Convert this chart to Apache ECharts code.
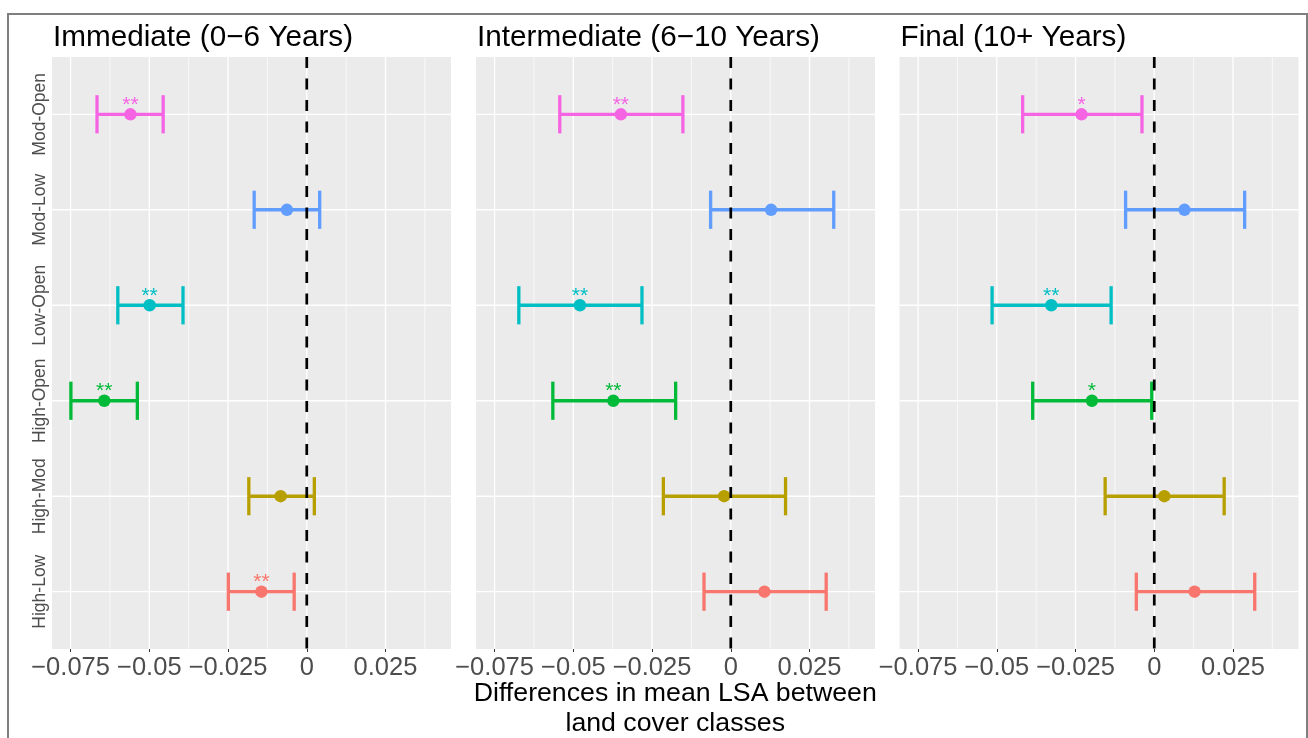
<!DOCTYPE html>
<html><head><meta charset="utf-8">
<script src="https://cdn.jsdelivr.net/npm/echarts@6/dist/echarts.min.js"></script>
<style>html,body{margin:0;padding:0;background:#fff}#c{width:1308px;height:738px}</style>
</head><body><div id="c"></div>
<script>
// ---------- data ----------
const categories = ['High-Low', 'High-Mod', 'High-Open', 'Low-Open', 'Mod-Low', 'Mod-Open'];
const colors = ['#F8766D', '#B79F00', '#00BA38', '#00BFC4', '#619CFF', '#F564E3'];
const panelTitles = ['Immediate (0\u22126 Years)', 'Intermediate (6\u221210 Years)', 'Final (10+ Years)'];

const immediateMean  = [-0.0144, -0.0083, -0.0643, -0.0499, -0.0063, -0.0560];
const immediateLower = [-0.0249, -0.0184, -0.0749, -0.0600, -0.0167, -0.0666];
const immediateUpper = [-0.0040,  0.0024, -0.0538, -0.0393,  0.0041, -0.0456];
const immediateSig   = ['**', '', '**', '**', '', '**'];

const intermediateMean  = [ 0.0107, -0.0021, -0.0373, -0.0479,  0.0128, -0.0349];
const intermediateLower = [-0.0085, -0.0214, -0.0565, -0.0673, -0.0064, -0.0543];
const intermediateUpper = [ 0.0303,  0.0174, -0.0175, -0.0282,  0.0327, -0.0152];
const intermediateSig   = ['', '', '**', '**', '', '**'];

const finalMean  = [ 0.0128,  0.0032, -0.0198, -0.0327,  0.0096, -0.0231];
const finalLower = [-0.0057, -0.0156, -0.0386, -0.0515, -0.0091, -0.0418];
const finalUpper = [ 0.0319,  0.0222, -0.0008, -0.0137,  0.0287, -0.0039];
const finalSig   = ['', '', '*', '**', '', '*'];

const xMajorTicks = [-0.075, -0.05, -0.025, 0, 0.025];
const xMinorTicks = [-0.0625, -0.0375, -0.0125, 0.0125, 0.0375];
const referenceValue = [0];
const xTitle = 'Differences in mean LSA between\nland cover classes';

// ---------- layout ----------
const FONT = "'Liberation Sans', Arial, sans-serif";
const xMin = -0.0809, xMax = 0.0458, yMin = 0.4, yMax = 6.6;
const gridLefts = [52, 476, 899.5];
const gridTop = 57, gridHeight = 592, gridWidth = 399;

const panels = [
  {mean: immediateMean, lower: immediateLower, upper: immediateUpper, sig: immediateSig},
  {mean: intermediateMean, lower: intermediateLower, upper: intermediateUpper, sig: intermediateSig},
  {mean: finalMean, lower: finalLower, upper: finalUpper, sig: finalSig}
];

const yTickValues = categories.map((c, k) => k + 1);

function fmtX(v) {
  if (Math.abs(v) < 1e-9) return '0';
  return (v < 0 ? '\u2212' : '') + String(+Math.abs(v).toFixed(4));
}

const grids = [], xAxes = [], yAxes = [], series = [], graphics = [];

graphics.push({
  type: 'rect', silent: true, z: 100,
  shape: {x: 8, y: 14, width: 1299, height: 740},
  style: {fill: 'rgba(0,0,0,0)', stroke: '#7F7F7F', lineWidth: 2}
});

panels.forEach((p, i) => {
  grids.push({
    left: gridLefts[i], top: gridTop, width: gridWidth, height: gridHeight,
    show: true, backgroundColor: '#EBEBEB', borderWidth: 0, containLabel: false, outerBoundsMode: 'none'
  });
  xAxes.push({
    type: 'value', gridIndex: i, min: xMin, max: xMax,
    axisLine: {show: false}, splitLine: {show: false},
    axisTick: {show: true, length: 3, customValues: xMajorTicks, lineStyle: {color: '#333333', width: 1}},
    axisLabel: {show: true, customValues: xMajorTicks, formatter: fmtX, margin: 6, hideOverlap: false,
      color: '#4D4D4D', fontSize: 25.5, fontFamily: FONT}
  });
  yAxes.push({
    type: 'value', gridIndex: i, min: yMin, max: yMax,
    axisLine: {show: false}, splitLine: {show: false},
    axisTick: {show: true, length: 3, customValues: yTickValues, lineStyle: {color: '#333333', width: 1}},
    axisLabel: {show: i === 0, customValues: yTickValues, rotate: 90, margin: 3, hideOverlap: false,
      formatter: v => categories[Math.round(v) - 1] || '',
      color: '#4D4D4D', fontSize: 17.5, fontFamily: FONT}
  });

  // gridlines
  const gridData = []
    .concat(xMajorTicks.map(v => [v, 1, 0]))
    .concat(xMinorTicks.map(v => [v, 1, 1]))
    .concat(yTickValues.map(v => [0, v, 2]));
  series.push({
    type: 'custom', xAxisIndex: i, yAxisIndex: i, z: 1, silent: true,
    data: gridData, encode: {x: 0, y: 1},
    renderItem: (params, api) => {
      const kind = api.value(2);
      const cs = params.coordSys;
      if (kind < 2) {
        const px = api.coord([api.value(0), 1])[0];
        return {type: 'line', shape: {x1: px, y1: cs.y, x2: px, y2: cs.y + cs.height},
          style: {stroke: '#FFFFFF', lineWidth: kind === 0 ? 1.3 : 0.7}};
      }
      const py = api.coord([0, api.value(1)])[1];
      return {type: 'line', shape: {x1: cs.x, y1: py, x2: cs.x + cs.width, y2: py},
        style: {stroke: '#FFFFFF', lineWidth: 1.3}};
    }
  });

  // error bars
  const ebData = categories.map((c, k) => [k + 1, p.lower[k], p.mean[k], p.upper[k]]);
  series.push({
    type: 'custom', xAxisIndex: i, yAxisIndex: i, z: 3, silent: true,
    data: ebData, encode: {y: 0, x: [1, 2, 3]},
    renderItem: (params, api) => {
      const k = params.dataIndex;
      const y = api.value(0), lo = api.value(1), m = api.value(2), hi = api.value(3);
      const a = api.coord([lo, y]), b = api.coord([hi, y]), c = api.coord([m, y]);
      const half = Math.abs(api.coord([lo, y + 0.2])[1] - a[1]);
      const col = colors[k];
      const children = [
        {type: 'line', shape: {x1: a[0], y1: a[1], x2: b[0], y2: b[1]}, style: {stroke: col, lineWidth: 3.3}},
        {type: 'line', shape: {x1: a[0], y1: a[1] - half, x2: a[0], y2: a[1] + half}, style: {stroke: col, lineWidth: 3.3}},
        {type: 'line', shape: {x1: b[0], y1: b[1] - half, x2: b[0], y2: b[1] + half}, style: {stroke: col, lineWidth: 3.3}},
        {type: 'circle', shape: {cx: c[0], cy: c[1], r: 6.2}, style: {fill: col}}
      ];
      const s = p.sig[k];
      if (s) {
        children.push({type: 'text', x: c[0], y: c[1] - 9.5,
          style: {text: s, fill: col, fontSize: 21, fontFamily: FONT, align: 'center', verticalAlign: 'middle'}});
      }
      return {type: 'group', children};
    }
  });

  // zero reference line
  series.push({
    type: 'custom', xAxisIndex: i, yAxisIndex: i, z: 5, silent: true,
    data: referenceValue.map(v => [v, 1]), encode: {x: 0, y: 1},
    renderItem: (params, api) => {
      const cs = params.coordSys;
      const px = api.coord([api.value(0), 1])[0];
      return {type: 'line', shape: {x1: px, y1: cs.y, x2: px, y2: cs.y + cs.height},
        style: {stroke: '#000000', lineWidth: 2.7, lineDash: [11, 10.5]}};
    }
  });

  graphics.push({
    type: 'text', silent: true, x: gridLefts[i] + 1, y: 23,
    style: {text: panelTitles[i], fontSize: 29.7, fontFamily: FONT, fill: '#000000', align: 'left', verticalAlign: 'top'}
  });
});

graphics.push({
  type: 'text', silent: true, x: gridLefts[0] + (gridLefts[2] + gridWidth - gridLefts[0]) / 2, y: 679,
  style: {text: xTitle, fontSize: 26.7, lineHeight: 30, fontFamily: FONT, fill: '#000000', align: 'center', verticalAlign: 'top'}
});

const chart = echarts.init(document.getElementById('c'), null, {renderer: 'canvas'});
chart.setOption({
  animation: false,
  backgroundColor: '#FFFFFF',
  grid: grids, xAxis: xAxes, yAxis: yAxes, series: series, graphic: graphics
});
</script></body></html>
